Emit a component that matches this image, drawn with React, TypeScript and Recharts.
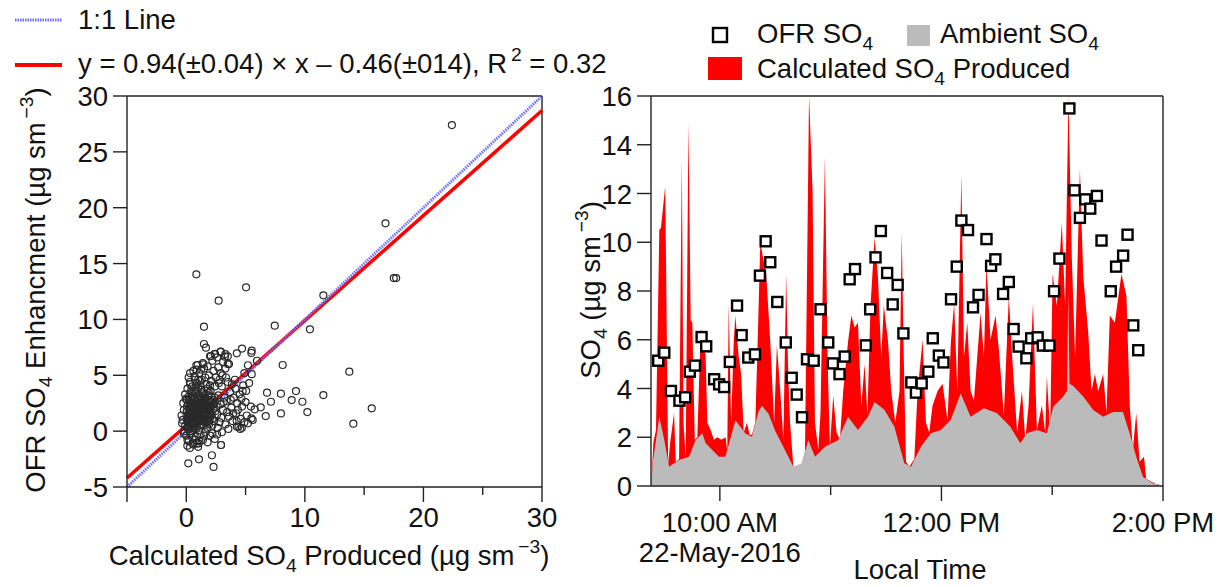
import React from "react"
import { ComposedChart, XAxis, YAxis, Scatter, Area, ReferenceLine } from "recharts"

const FONT = "'Liberation Sans', Arial, sans-serif"
const AXIS = "#222"
const FS = 27.5

// ---------- left panel: OFR enhancement vs calculated production ----------
const scatterPoints: [number, number][] = [
  // dense core
  [0.1, 1.2], [0.2, 0.8], [0.3, 1.5], [0.4, 2.1], [0.5, 0.6], [0.6, 1.9], [0.7, 1.1], [0.8, 2.6], [0.9, 0.4], [1.0, 1.7],
  [1.1, 2.9], [1.2, 0.9], [1.3, 2.2], [1.4, 1.4], [1.5, 3.1], [1.6, 0.7], [1.7, 2.5], [1.8, 1.8], [1.9, 3.4], [2.0, 1.2],
  [2.1, 2.7], [2.2, 0.5], [2.3, 2.0], [2.4, 3.0], [0.15, 2.4], [0.25, 0.2], [0.35, 2.9], [0.45, 1.0], [0.55, 3.2], [0.65, 0.3],
  [0.75, 2.2], [0.85, 1.4], [0.95, 3.0], [1.05, 0.1], [1.15, 2.0], [1.25, 1.2], [1.35, 3.3], [1.45, 0.5], [1.55, 2.4], [1.65, 1.6],
  [1.75, 0.3], [1.85, 2.8], [1.95, 1.0], [2.05, 3.6], [2.15, 1.5], [2.25, 2.4], [2.35, 0.9], [2.45, 1.8], [0.05, 1.8], [0.12, 0.5],
  [0.22, 2.7], [0.32, 1.3], [0.42, 3.4], [0.52, 1.6], [0.62, 2.5], [0.72, 0.8], [0.82, 3.5], [0.92, 2.0], [1.02, 2.4], [1.12, 1.5],
  [1.22, 3.7], [1.32, 0.6], [1.42, 2.6], [1.52, 1.9], [1.62, 3.0], [1.72, 1.1], [1.82, 2.2], [1.92, 0.6], [2.02, 2.0], [2.12, 3.1],
  [0.08, 0.9], [0.18, 1.6], [0.28, 2.2], [0.38, 0.7], [0.48, 2.8], [0.58, 1.3], [0.68, 3.6], [0.78, 1.7], [0.88, 2.3], [0.98, 0.9],
  [1.08, 3.2], [1.18, 2.6], [1.28, 1.8], [1.38, 2.4], [1.48, 1.1], [1.58, 2.9], [1.68, 2.1], [1.78, 3.8], [1.88, 1.4], [1.98, 2.6],
  [0.3, 0.0], [0.6, 0.1], [0.9, 1.3], [1.2, 2.3], [1.5, 1.7], [1.8, 0.9], [2.1, 2.3], [2.4, 2.6], [0.4, 1.7], [0.7, 2.9],
  [1.0, 3.9], [1.3, 1.0], [1.6, 2.2], [1.9, 2.0], [2.2, 1.1], [0.2, 3.1], [0.5, 2.3], [0.8, 0.2], [1.1, 1.0], [1.4, 3.5],
  [0.02, 1.4], [0.06, 2.2], [0.14, 0.2], [0.24, 1.1], [0.34, 1.9], [0.44, 0.3], [0.54, 1.2], [0.64, 2.1], [0.74, 1.5], [0.84, 0.7],
  [0.94, 2.7], [1.04, 1.3], [1.14, 0.5], [1.24, 3.0], [1.34, 1.6], [1.44, 2.0], [1.54, 0.9], [1.64, 2.7], [1.74, 1.5], [1.84, 3.2],
  [0.16, 1.0], [0.26, 2.0], [0.36, 1.2], [0.46, 2.5], [0.56, 0.9], [0.66, 1.6], [0.76, 2.4], [0.86, 1.1], [0.96, 1.9], [1.06, 2.8],
  [1.16, 1.3], [1.26, 2.5], [1.36, 1.9], [1.46, 2.8], [1.56, 1.3], [1.66, 2.3], [1.76, 2.0], [1.86, 0.8], [2.06, 1.6], [2.26, 2.8],
  // right side of the cloud
  [2.6, 1.5], [2.7, 3.2], [2.8, 0.8], [2.9, 2.4], [3.0, 4.0], [3.1, 1.9], [3.2, 3.0], [3.3, 0.6], [3.4, 2.7], [3.5, 4.4],
  [3.6, 1.3], [3.7, 3.5], [3.8, 2.1], [3.9, 0.9], [4.0, 3.0], [4.1, 4.6], [4.2, 1.6], [4.3, 2.5], [4.4, 0.4], [4.5, 3.3],
  [4.6, 1.1], [4.7, 2.2], [4.8, 4.1], [4.9, 0.8], [5.0, 2.6], [5.1, 1.4], [2.55, 2.2], [2.75, 4.3], [2.95, 1.2], [3.15, 2.6],
  [3.35, 4.8], [3.55, 0.2], [3.75, 2.8], [3.95, 1.6], [4.15, 3.8], [4.35, 1.9], [4.55, 0.2], [4.75, 3.6], [2.65, 0.3], [3.05, 5.0],
  [3.45, 1.7], [3.85, 4.2], [4.25, 0.9], [4.65, 2.9], [5.05, 3.6], [5.3, 4.3], [5.45, 2.2], [5.6, 1.0], [5.2, 0.7], [4.9, 5.2],
  // upper part
  [0.1, 3.8], [0.3, 4.4], [0.5, 4.0], [0.7, 4.9], [0.9, 4.3], [1.1, 5.2], [1.3, 4.6], [1.5, 5.6], [1.7, 4.2], [1.9, 5.0],
  [2.1, 4.5], [2.3, 5.4], [2.5, 4.8], [2.7, 5.7], [2.9, 5.2], [3.1, 6.2], [0.2, 4.8], [0.6, 5.4], [1.0, 4.6], [1.4, 6.1],
  [1.8, 5.8], [2.2, 6.3], [2.6, 6.6], [0.4, 3.6], [0.8, 3.9], [1.2, 4.1], [1.6, 4.8], [2.0, 4.1], [2.4, 4.0], [2.8, 4.6],
  [0.85, 5.9], [1.25, 5.5], [0.32, 5.2], [3.3, 5.6], [3.6, 6.0], [2.0, 6.7], [2.4, 6.9], [2.9, 7.1], [3.5, 6.7], [3.3, 6.9],
  [1.49, 7.8], [1.66, 7.47], [2.08, 6.73], [2.42, 6.91], [2.9, 7.12], [3.26, 6.67], [3.5, 6.0], [4.26, 6.97], [4.7, 7.39], [5.49, 7.0],
  [5.52, 7.2], [5.2, 5.9], [5.96, 6.3], [5.52, 5.1], [0.96, 5.92], [1.44, 5.98], [0.88, 5.5], [0.74, 4.6], [1.16, 4.5], [0.32, 4.2],
  // lower part
  [0.0, -0.4], [0.2, -0.9], [0.4, -0.2], [0.6, -1.2], [0.8, -0.5], [1.0, -1.4], [1.2, -0.3], [1.4, -0.8], [1.6, -0.1], [1.8, -1.0],
  [2.0, -0.4], [2.2, -0.2], [2.4, -0.7], [2.6, -0.3], [3.0, -0.1], [0.5, -0.6], [1.1, -0.9], [1.5, -0.4], [0.3, -1.5], [0.9, -1.1],
  [2.93, -1.24], [0.17, -2.88], [1.07, -2.52], [2.16, -2.16], [2.3, -3.2], [0.09, -1.3], [0.54, -1.1], [1.04, -1.1], [0.1, -0.79], [0.74, -0.79],
  // left edge
  [-0.3, 1.0], [-0.2, 1.9], [-0.1, 0.5], [-0.4, 1.4], [-0.25, 2.5], [-0.15, 0.0], [-0.35, 0.7], [-0.05, 2.9], [-0.2, -0.2], [-0.1, 3.3],
  // scattered outliers
  [22.4, 27.4], [16.8, 18.6], [17.5, 13.7], [17.7, 13.7], [0.85, 14.04], [5.04, 12.87], [2.73, 11.68], [11.56, 12.16],
  [1.49, 9.35], [7.46, 9.44], [10.43, 9.11], [8.13, 5.92], [13.75, 5.32], [6.81, 3.44], [7.98, 3.35], [9.25, 3.59],
  [11.56, 3.23], [7.14, 2.63], [8.89, 2.78], [9.79, 2.63], [10.21, 1.71], [7.98, 1.59], [6.7, 1.35], [15.64, 2.04],
  [14.09, 0.67], [5.77, 1.95], [6.28, 2.13], [5.49, 1.14], [4.69, 0.3], [4.27, 0.4], [2.93, -1.24], [0.03, 2.8],
]
const oneToOneLine = [{ x: -5, y: -5 }, { x: 30, y: 30 }]
const fitLine = [{ x: -5, y: -4.2 }, { x: 30, y: 28.7 }]
const leftTicks = [-5, 0, 5, 10, 15, 20, 25, 30]
const leftXLabels = [0, 10, 20, 30]

// ---------- right panel: time series (minutes after midnight) ----------
const calcTimes = [
  563, 564, 565.4, 567.2, 568.1, 570.4, 572.0, 573.1, 575.2, 576.1, 577.9, 579.4, 580.3, 581.5, 583.0, 584.2, 585.1, 586.4,
  587.8, 589.6, 591.0, 592.3, 593.2, 595.0, 596.8, 598.6, 600.7, 603.1, 604.0, 604.8, 606.1, 607.5, 608.4, 610.2, 611.5,
  612.9, 614.7, 616.1, 617.4, 619.2, 620.5, 621.9, 623.3, 625.1, 627.3, 629.4, 630.9, 632.7, 634.4, 635.9, 636.9, 638.0,
  639.8, 641.6, 644.3, 646.1, 648.3, 650.2, 651.5, 653.3, 654.5, 656.9, 658.3, 659.6, 661.4, 663.2, 665.0, 666.8, 669.4,
  671.2, 673.0, 674.8, 676.6, 678.4, 679.9, 681.6, 683.8, 685.6, 687.4, 688.8, 691.0, 692.8, 695.0, 697.3, 698.5, 699.6,
  700.8, 702.6, 705.3, 707.1, 709.8, 711.6, 713.4, 715.2, 717.9, 720.6, 723.3, 725.1, 726.9, 728.6, 730.8, 732.2, 734.0,
  735.8, 737.6, 741.2, 743.0, 744.4, 746.6, 749.3, 751.1, 753.8, 756.5, 758.3, 761.0, 763.6, 765.4, 767.2, 769.6, 771.7,
  774.4, 776.2, 777.1, 778.9, 780.2, 782.5, 785.2, 787.0, 788.8, 790.6, 792.4, 795.0, 796.8, 799.5, 801.3, 803.1, 804.9,
  807.6, 809.4, 811.2, 813.9, 817.5, 820.2, 822.0, 823.7, 825.5, 827.3, 829.7, 830.9, 835.4, 838,
]
const calcValues = [
  0.3, 1.8, 2.3, 10.5, 10.6, 12.3, 0.9, 1.8, 3.0, 1.0, 1.1, 13.4, 2.6, 1.2, 14.9, 6.8, 6.7, 1.9,
  2.0, 6.4, 6.3, 5.3, 2.6, 2.3, 1.9, 2.0, 1.9, 2.0, 1.4, 7.5, 2.6, 5.9, 7.0, 5.3, 4.6,
  2.2, 2.6, 2.1, 2.1, 2.6, 6.0, 10.0, 9.4, 8.7, 5.9, 2.6, 5.8, 3.9, 1.9, 8.7, 5.0, 2.6,
  0.8, 0.7, 0.9, 1.4, 16, 12.1, 2.6, 1.5, 3.0, 13.5, 5.3, 1.6, 3.7, 2.2, 1.9, 3.9, 5.9,
  7.0, 6.5, 6.7, 3.3, 5.0, 2.9, 7.4, 10.2, 8.6, 5.3, 7.4, 6.0, 3.9, 2.6, 3.9, 10.4, 5.3,
  1.0, 0.8, 1.1, 3.9, 6.0, 2.6, 2.2, 3.3, 3.9, 4.2, 2.7, 5.9, 7.5, 3.9, 12.8, 5.3, 6.7,
  3.9, 3.5, 7.1, 5.3, 9.1, 6.0, 7.0, 5.6, 2.9, 7.8, 5.3, 2.2, 3.9, 1.9, 3.3, 7.5, 2.3,
  3.3, 2.2, 4.5, 2.2, 8.7, 7.4, 10.8, 7.4, 16, 9.4, 5.3, 13.0, 8.6, 6.3, 3.9, 4.6, 3.9,
  4.6, 3.0, 7.0, 6.7, 8.7, 7.8, 3.3, 1.5, 3.0, 1.0, 1.2, 0.3, 0.1, 0.05,
]
const ambTimes = [
  563, 563.6, 567.2, 569.9, 572.5, 577.9, 583.3, 586.9, 590.5, 592.3, 595.9, 599.5, 603.0, 608.4, 613.8, 617.4, 621.0,
  622.8, 626.4, 630.0, 635.3, 639.8, 644.3, 647.9, 651.5, 656.9, 664.0, 669.4, 674.8, 680.2, 683.8, 689.2, 694.5, 699.9,
  703.5, 708.9, 714.3, 719.7, 725.0, 730.4, 735.8, 743.0, 750.2, 757.3, 762.7, 766.3, 771.7, 777.1, 780.6, 786.0, 788.0,
  788.7, 789.4, 791.4, 796.8, 802.2, 807.6, 812.9, 818.3, 821.9, 825.5, 829.1, 834.5, 838,
]
const ambValues = [
  0.1, 0.93, 2.84, 1.88, 0.79, 1.07, 1.2, 1.89, 2.16, 1.75, 1.48, 1.2, 1.2, 2.7, 2.15, 2.02, 3.08,
  3.29, 2.95, 2.26, 1.47, 0.79, 0.93, 1.88, 1.2, 1.61, 1.88, 2.84, 2.3, 2.84, 3.45, 3.12, 2.43, 0.93,
  0.79, 1.61, 2.16, 2.3, 2.71, 3.8, 2.84, 3.19, 2.98, 2.43, 1.75, 2.16, 2.3, 2.16, 3.25, 3.67, 3.9,
  8.0, 4.2, 4.1, 3.67, 3.12, 2.84, 3.04, 3.04, 2.16, 1.2, 0.38, 0.1, 0.05,
]
const ofrTimes = [
  566.6, 569.9, 573.5, 578.1, 581.2, 583.7, 586.5, 590.1, 592.6, 596.9, 599.6, 602.3, 605.4, 609.3, 611.8, 615.4, 619.0,
  621.7, 624.8, 627.3, 631.1, 635.7, 638.9, 641.6, 644.5, 647.2, 650.8, 654.5, 658.7, 661.2, 664.8, 667.6, 670.3, 673.2,
  679.0, 681.4, 684.3, 687.2, 690.6, 693.6, 696.3, 699.4, 703.7, 706.2, 709.3, 712.9, 715.3, 718.6, 721.1, 725.2, 728.3,
  730.8, 734.4, 737.1, 740.1, 744.4, 746.9, 749.2, 753.4, 756.5, 759.1, 761.8, 766.0, 768.6, 772.1, 774.9, 778.5, 781.0,
  783.9, 789.3, 792.1, 795.0, 797.9, 800.6, 804.2, 806.7, 811.7, 814.6, 818.4, 820.8, 823.9, 826.6,
]
const ofrValues = [
  5.14, 5.47, 3.9, 3.5, 3.64, 4.69, 4.94, 6.11, 5.73, 4.38, 4.17, 4.06, 5.09, 7.4, 6.19, 5.27, 5.4,
  8.63, 10.04, 9.18, 7.55, 5.89, 4.44, 3.75, 2.82, 5.2, 5.14, 7.25, 5.89, 5.03, 4.59, 5.31, 8.48, 8.9,
  5.77, 7.25, 9.38, 10.46, 8.74, 7.45, 8.25, 6.26, 4.25, 3.83, 4.21, 4.69, 6.06, 5.35, 5.07, 7.66, 9.0,
  10.89, 10.5, 7.33, 7.84, 10.13, 9.03, 9.3, 7.88, 8.37, 6.44, 5.72, 5.24, 6.06, 6.1, 5.76, 5.76, 7.99,
  9.33, 15.49, 12.13, 11.0, 11.76, 11.38, 11.9, 10.07, 7.99, 9.0, 9.45, 10.31, 6.59, 5.57,
]
const timeTicks = [600, 660, 720, 780, 840]
const timeLabels: Record<number, string[]> = {
  600: ["10:00 AM", "22-May-2016"],
  720: ["12:00 PM"],
  840: ["2:00 PM"],
}
const so4Ticks = [0, 2, 4, 6, 8, 10, 12, 14, 16]

const scatterData = scatterPoints.map(([x, y]) => ({ x, y }))
const areaTimes = Array.from(new Set([...calcTimes, ...ambTimes])).sort((a, b) => a - b)
const areaData = areaTimes.map((t) => {
  const ci = calcTimes.indexOf(t)
  const ai = ambTimes.indexOf(t)
  return { t, calc: ci >= 0 ? calcValues[ci] : null, amb: ai >= 0 ? ambValues[ai] : null }
})
const ofrData = ofrTimes.map((t, i) => ({ t, ofr: ofrValues[i] }))

const textStyle = { fontFamily: FONT, fontSize: FS, fill: "#111" }

const LeftXTick = (props: any) => {
  const { x, y, payload } = props
  const labeled = leftXLabels.includes(payload.value)
  const long = labeled || payload.value === -5
  return (
    <g>
      <line x1={x} x2={x} y1={y} y2={y + (long ? 15 : 8)} stroke={AXIS} strokeWidth={1.4} />
      {labeled && (
        <text x={x} y={y + 40} textAnchor="middle" style={textStyle}>
          {payload.value}
        </text>
      )}
    </g>
  )
}

const YTick = (props: any) => {
  const { x, y, payload } = props
  return (
    <g>
      <line x1={x} x2={x - 14} y1={y} y2={y} stroke={AXIS} strokeWidth={1.4} />
      <text x={x - 19} y={y + 10} textAnchor="end" style={textStyle}>
        {payload.value}
      </text>
    </g>
  )
}

const TimeTick = (props: any) => {
  const { x, y, payload } = props
  const lines = timeLabels[payload.value]
  return (
    <g>
      <line x1={x} x2={x} y1={y} y2={y + (lines ? 15 : 9)} stroke={AXIS} strokeWidth={1.4} />
      {lines &&
        lines.map((s, i) => (
          <text key={i} x={x} y={y + 46 + i * 30} textAnchor="middle" style={textStyle}>
            {s}
          </text>
        ))}
    </g>
  )
}

const Sub = ({ children }: { children: React.ReactNode }) => (
  <span style={{ fontSize: "0.7em", position: "relative", top: "0.35em", lineHeight: 0 }}>{children}</span>
)
const Sup = ({ children }: { children: React.ReactNode }) => (
  <span style={{ fontSize: "0.7em", position: "relative", top: "-0.6em", marginLeft: "0.2em", lineHeight: 0 }}>
    {children}
  </span>
)

const Txt = ({
  x,
  y,
  children,
  anchor = "start",
  rotate = false,
}: {
  x: number
  y: number
  children: React.ReactNode
  anchor?: "start" | "middle"
  rotate?: boolean
}) => (
  <div
    style={{
      position: "absolute",
      left: x,
      top: y,
      transform: rotate
        ? "translate(-50%, -50%) rotate(-90deg)"
        : anchor === "middle"
        ? "translate(-50%, -50%)"
        : "translate(0, -50%)",
      whiteSpace: "nowrap",
      fontFamily: FONT,
      fontSize: FS,
      lineHeight: 1,
      color: "#111",
    }}
  >
    {children}
  </div>
)

export default function App() {
  return (
    <div style={{ position: "absolute", left: 0, top: 0, width: 1221, height: 587, background: "#fff", overflow: "hidden" }}>
      {/* left scatter panel */}
      <div style={{ position: "absolute", left: 0, top: 0 }}>
        <ComposedChart width={600} height={587} data={scatterData} margin={{ top: 96, right: 58, bottom: 70, left: 67 }}>
          <XAxis
            dataKey="x"
            type="number"
            domain={[-5, 30]}
            ticks={leftTicks}
            interval={0}
            height={30}
            tickSize={0}
            tickMargin={0}
            tickLine={false}
            tick={<LeftXTick />}
            axisLine={{ stroke: AXIS, strokeWidth: 1.4 }}
          />
          <YAxis
            type="number"
            domain={[-5, 30]}
            ticks={leftTicks}
            interval={0}
            width={60}
            tickSize={0}
            tickMargin={0}
            tickLine={false}
            tick={<YTick />}
            axisLine={{ stroke: AXIS, strokeWidth: 1.4 }}
          />
          <ReferenceLine y={30} stroke={AXIS} strokeWidth={1.4} />
          <ReferenceLine x={30} stroke={AXIS} strokeWidth={1.4} />
          <Scatter
            dataKey="y"
            isAnimationActive={false}
            shape={(p: any) => <circle cx={p.cx} cy={p.cy} r={3.5} fill="none" stroke="#2a2a2a" strokeWidth={1.2} />}
          />
          <ReferenceLine segment={fitLine} stroke="#ff0000" strokeWidth={3.5} ifOverflow="visible" />
          <ReferenceLine
            segment={oneToOneLine}
            stroke="#6e6eff"
            strokeWidth={3}
            strokeDasharray="1.5 1"
            ifOverflow="visible"
          />
        </ComposedChart>
      </div>

      {/* right time-series panel */}
      <div style={{ position: "absolute", left: 600, top: 0 }}>
        <ComposedChart width={621} height={587} data={areaData} margin={{ top: 96, right: 58, bottom: 71, left: 1 }}>
          <XAxis
            dataKey="t"
            type="number"
            domain={[562.7, 840]}
            ticks={timeTicks}
            interval={0}
            height={30}
            tickSize={0}
            tickMargin={0}
            tickLine={false}
            tick={<TimeTick />}
            axisLine={{ stroke: AXIS, strokeWidth: 1.4 }}
          />
          <YAxis
            type="number"
            domain={[0, 16]}
            ticks={so4Ticks}
            interval={0}
            width={50}
            tickSize={0}
            tickMargin={0}
            tickLine={false}
            tick={<YTick />}
            axisLine={{ stroke: AXIS, strokeWidth: 1.4 }}
          />
          <Area
            dataKey="calc"
            type="linear"
            stroke="none"
            fill="#ff0000"
            fillOpacity={1}
            connectNulls
            isAnimationActive={false}
          />
          <Area
            dataKey="amb"
            type="linear"
            stroke="none"
            fill="#bbbbbb"
            fillOpacity={1}
            connectNulls
            isAnimationActive={false}
          />
          <ReferenceLine y={16} stroke={AXIS} strokeWidth={1.4} />
          <ReferenceLine x={840} stroke={AXIS} strokeWidth={1.4} />
          <Scatter
            data={ofrData}
            dataKey="ofr"
            isAnimationActive={false}
            shape={(p: any) => (
              <rect x={p.cx - 5} y={p.cy - 5} width={10} height={10} fill="#fff" stroke="#000" strokeWidth={2.4} />
            )}
          />
        </ComposedChart>
      </div>

      {/* axis titles */}
      <Txt x={36} y={290} rotate>
        OFR SO<Sub>4</Sub> Enhancment (µg sm<Sup>−3</Sup>)
      </Txt>
      <Txt x={329} y={556} anchor="middle">
        Calculated SO<Sub>4</Sub> Produced (µg sm<Sup>−3</Sup>)
      </Txt>
      <Txt x={591} y={290} rotate>
        SO<Sub>4</Sub> (µg sm<Sup>−3</Sup>)
      </Txt>
      <Txt x={920} y={570} anchor="middle">
        Local Time
      </Txt>

      {/* left legend */}
      <svg style={{ position: "absolute", left: 0, top: 0 }} width={80} height={80}>
        <line x1={15} x2={62} y1={20} y2={20} stroke="#6e6eff" strokeWidth={3} strokeDasharray="1.5 1" />
        <line x1={15} x2={62} y1={65} y2={65} stroke="#ff0000" strokeWidth={4} />
      </svg>
      <Txt x={78} y={20}>1:1 Line</Txt>
      <Txt x={78} y={64}>
        y = 0.94(±0.04) × x – 0.46(±014), R<Sup>2</Sup> = 0.32
      </Txt>

      {/* right legend */}
      <svg style={{ position: "absolute", left: 700, top: 20 }} width={250} height={65}>
        <rect x={13} y={8} width={14} height={14} fill="#fff" stroke="#000" strokeWidth={2.4} />
        <rect x={207} y={5} width={23} height={21} fill="#bbbbbb" />
        <rect x={8} y={37} width={34} height={23} fill="#ff0000" />
      </svg>
      <Txt x={757} y={34}>
        OFR SO<Sub>4</Sub>
      </Txt>
      <Txt x={940} y={34}>
        Ambient SO<Sub>4</Sub>
      </Txt>
      <Txt x={757} y={69}>
        Calculated SO<Sub>4</Sub> Produced
      </Txt>
    </div>
  )
}
